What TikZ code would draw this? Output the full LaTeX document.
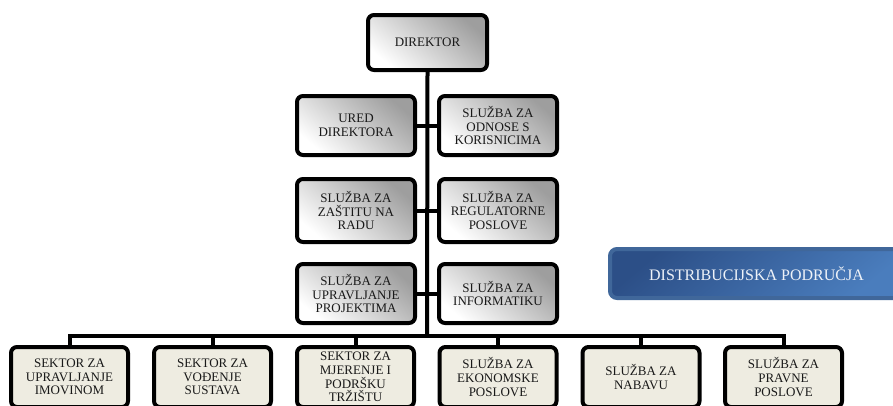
\documentclass[tikz,border=0pt]{standalone}
\usepackage{fontspec}
\setmainfont{Liberation Serif}
\begin{document}
\begin{tikzpicture}[x=1pt,y=-1pt,
  box/.style={draw=black, line width=4pt, rounded corners=6pt, align=center,
    inner sep=0pt, minimum width=118pt, font=\fontsize{13}{13.6}\selectfont,
    text=black!90},
  graybox/.style={box, top color=black!38, bottom color=white, shading angle=-40},
  creambox/.style={box, fill=cream, minimum height=60pt, minimum width=117pt},
  conn/.style={line width=4pt, draw=black},
  bluebox/.style={draw=blueedge, line width=4pt, rounded corners=7pt,
    top color=bluedark, bottom color=bluelight, shading angle=40,
    minimum width=293pt, minimum height=49pt, inner sep=0pt,
    font=\fontsize{16}{18}\selectfont, text=bluetext}
]
\definecolor{cream}{HTML}{EEECE1}
\definecolor{blueedge}{HTML}{40679A}
\definecolor{bluedark}{HTML}{2C4F87}
\definecolor{bluelight}{HTML}{4A7DBD}
\definecolor{bluetext}{HTML}{EEF2F8}
\useasboundingbox (0,0) rectangle (893,405);
\clip (0,0) rectangle (893,405);

\coordinate (bar) at (427,336);

\node[graybox, minimum width=119pt, minimum height=55pt] (dir) at (427.5,42.5) {DIREKTOR};

\node[graybox, minimum height=59pt] (r1l) at (356,125.5) {URED\\DIREKTORA};
\node[graybox, minimum height=59pt] (r1r) at (498,125.5) {SLUŽBA ZA\\ODNOSE S\\KORISNICIMA};
\node[graybox, minimum height=63pt] (r2l) at (356,210.5) {SLUŽBA ZA\\ZAŠTITU NA\\RADU};
\node[graybox, minimum height=63pt] (r2r) at (498,210.5) {SLUŽBA ZA\\REGULATORNE\\POSLOVE};
\node[graybox, minimum height=59pt] (r3l) at (356,293.5) {SLUŽBA ZA\\UPRAVLJANJE\\PROJEKTIMA};
\node[graybox, minimum height=59pt] (r3r) at (498,293.5) {SLUŽBA ZA\\INFORMATIKU};

\node[creambox] (b1) at (69.5,377) {SEKTOR ZA\\UPRAVLJANJE\\IMOVINOM};
\node[creambox] (b2) at (212.5,377) {SEKTOR ZA\\VOĐENJE\\SUSTAVA};
\node[creambox] (b3) at (355.5,377) {SEKTOR ZA\\MJERENJE I\\PODRŠKU\\TRŽIŠTU};
\node[creambox] (b4) at (498,377) {SLUŽBA ZA\\EKONOMSKE\\POSLOVE};
\node[creambox] (b5) at (641,377) {SLUŽBA ZA\\NABAVU};
\node[creambox] (b6) at (783.5,377) {SLUŽBA ZA\\PRAVNE\\POSLOVE};

\node[bluebox] (dist) at (756.5,273.5) {DISTRIBUCIJSKA PODRUČJA};

\draw[conn] (dir.south) -- (bar);
\draw[conn] (r1l.east) -- (r1r.west);
\draw[conn] (r2l.east) -- (r2r.west);
\draw[conn] (r3l.east) -- (r3r.west);
\draw[conn] (b1.north) |- (bar) -| (b6.north);
\draw[conn] (b2.north) -- (b2.north |- bar);
\draw[conn] (b3.north) -- (b3.north |- bar);
\draw[conn] (b4.north) -- (b4.north |- bar);
\draw[conn] (b5.north) -- (b5.north |- bar);
\end{tikzpicture}
\end{document}
